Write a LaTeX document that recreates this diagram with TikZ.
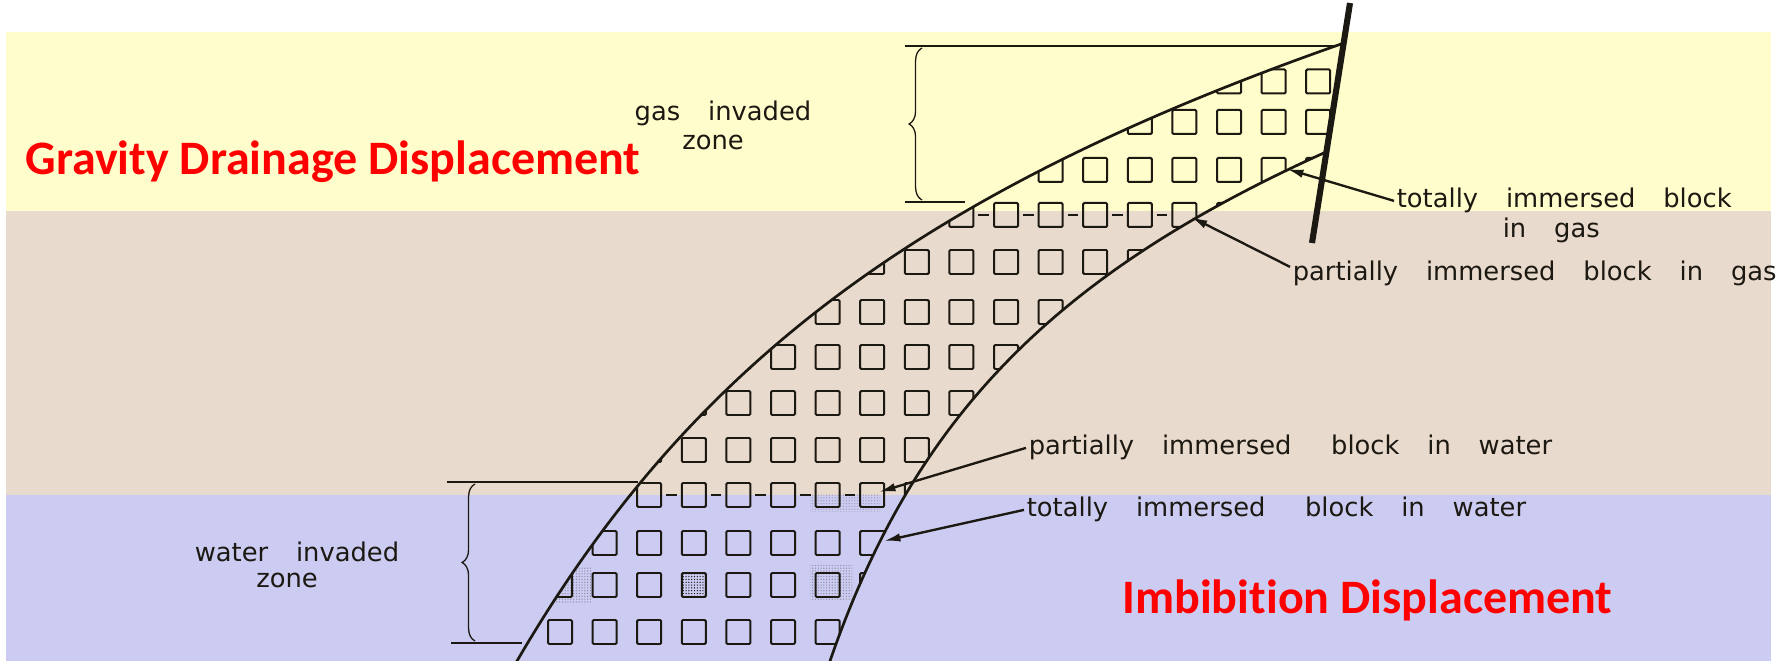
\documentclass[tikz,border=0pt]{standalone}
\usepackage{fontspec}
\newfontfamily\letterfont[WordSpace=3.4]{DejaVu Sans}
\newfontfamily\titlefont[Ligatures=NoCommon]{Carlito}
\usetikzlibrary{arrows.meta,decorations.pathreplacing,patterns.meta}

\definecolor{gasband}{RGB}{255,253,204}
\definecolor{oilband}{RGB}{232,218,204}
\definecolor{waterband}{RGB}{204,204,242}
\definecolor{ink}{RGB}{28,24,18}

\begin{document}
\begin{tikzpicture}[x=0.015cm, y=-0.015cm,
    bedline/.style={draw=ink, line width=1.15pt, line join=round},
    blockline/.style={draw=ink, line width=0.85pt, rounded corners=0.5pt},
    thinline/.style={draw=ink, line width=0.55pt},
    lettering/.style={inner sep=1pt, text=ink, font=\letterfont\fontsize{11}{13}\selectfont},
    banner/.style={inner sep=0pt, text=red, font=\titlefont\bfseries\fontsize{20.5}{24}\selectfont},
    pointer/.style={draw=ink, line width=1pt, -{Latex[length=7pt,width=3.6pt]}},
    speckle/.style={pattern={Dots[distance=1.2pt,radius=0.3pt]}, pattern color=ink}
  ]
  \useasboundingbox (0,0) rectangle (1788,661);

  \pgfmathsetmacro{\colzero}{560};
  \pgfmathsetmacro{\colstep}{44.6};
  \pgfmathsetmacro{\blockhalf}{12};

  % gas cap, oil zone, water zone
  \fill[gasband] (6,32) rectangle (1771,211);
  \fill[oilband] (6,211) rectangle (1771,495);
  \fill[waterband] (6,495) rectangle (1771,661);

  % outline of the fractured bed (runs off the bottom edge)
  \path[save path=\bedpath]
    (505,682) -- (517,661) .. controls (690,364) and (921,191) .. (1344,43)
    -- (1326,152) .. controls (1053,275) and (914,418) .. (830,661)
    -- (824,682) -- cycle;

  \begin{scope}
    \clip[use path=\bedpath];
    % stippled blocks below the water contact
    \fill[speckle, opacity=.35] (545,568) rectangle (592,603);
    \fill[speckle, opacity=.35] (810,566) rectangle (852,600);
    \fill[speckle, opacity=.25] (810,494) rectangle (880,512);
    \fill[speckle] (683,575) rectangle (705,595);

    % matrix blocks
    \foreach \yy in {81.5,122,170,215,262,312,357,403,450,495,543,585,632}
      \foreach \k in {0,...,17}
        \draw[blockline] (\colzero+\k*\colstep-\blockhalf,\yy-\blockhalf)
          rectangle ++(2*\blockhalf,2*\blockhalf);

    % rows cut by the gas-oil and water-oil contacts
    \foreach \yy/\kmax in {215/13,495/6}
      \foreach \k in {0,...,\kmax}
        \draw[blockline] (\colzero+\k*\colstep+\blockhalf+5,\yy)
          -- ++(\colstep-2*\blockhalf-10,0);
  \end{scope}

  \draw[bedline, use path=\bedpath];

  % fault
  \draw[ink, line width=2.6pt] (1350,3) -- (1312,243);

  % invaded zone brackets
  \draw[thinline] (905,46) -- (1335,46);
  \draw[thinline] (905,202) -- (965,202);
  \draw[thinline, decorate, decoration={brace,amplitude=5.5pt}] (922,200) -- (922,48);
  \draw[thinline] (447,482) -- (638,482);
  \draw[thinline] (451,643) -- (522,643);
  \draw[thinline, decorate, decoration={brace,amplitude=5.5pt}] (475,641) -- (475,484);

  \node[lettering, anchor=base] (gaszone) at (723,121) {gas invaded};
  \node[lettering, anchor=base] (gaszoneB) at (713,150) {zone};
  \node[lettering, anchor=base] (waterzone) at (297,562) {water invaded};
  \node[lettering, anchor=base] (waterzoneB) at (287,588) {zone};

  \node[lettering, anchor=base west] (gasfull) at (1394,208) {totally immersed block};
  \node[lettering, anchor=base west] (gasfullB) at (1500,238) {in gas};
  \node[lettering, anchor=base west] (gaspart) at (1290,281) {partially immersed block in gas};
  \node[lettering, anchor=base west] (waterpart) at (1026,455) {partially immersed\hspace{5pt} block in water};
  \node[lettering, anchor=base west] (waterfull) at (1024,517) {totally immersed\hspace{5pt} block in water};

  % arrows onto the blocks
  \coordinate (gasfulltip) at (1287,169);
  \coordinate (gasparttip) at (1191,217);
  \coordinate (waterparttip) at (879,492);
  \coordinate (waterfulltip) at (884,541);
  \draw[pointer] (gasfull.west) -- (gasfulltip);
  \draw[pointer] ([yshift=3pt]gaspart.west) -- (gasparttip);
  \draw[pointer] (waterpart.west) -- (waterparttip);
  \draw[pointer] (waterfull.west) -- (waterfulltip);

  \node[banner, anchor=base west] (drainage) at (25,175) {Gravity Drainage Displacement};
  \node[banner, anchor=base west] (imbibition) at (1122,613) {Imbibition Displacement};
\end{tikzpicture}
\end{document}
